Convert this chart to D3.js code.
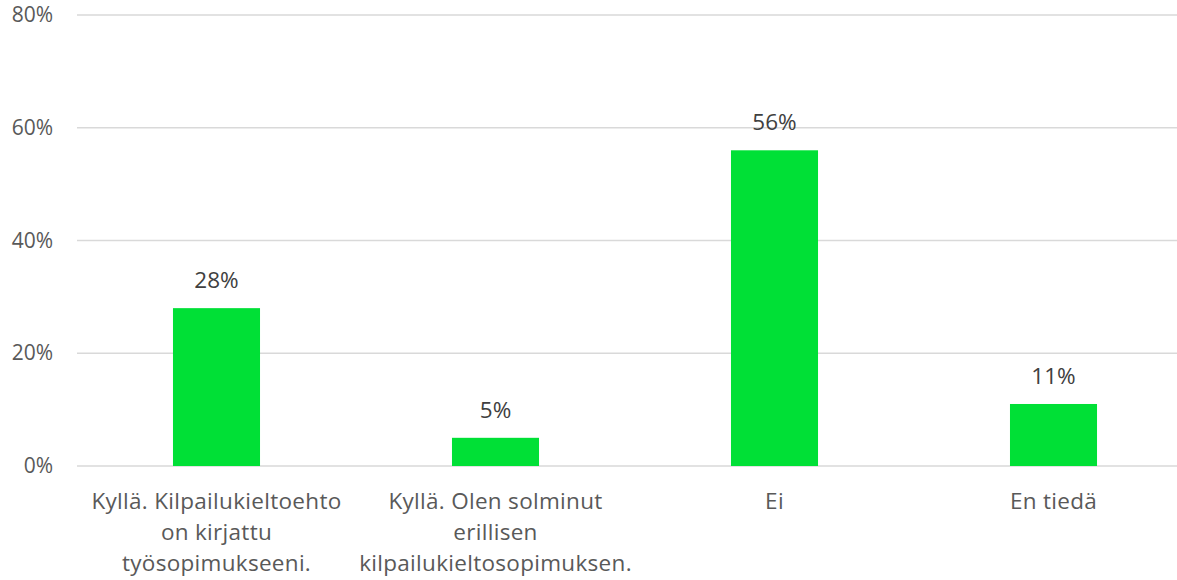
<!DOCTYPE html>
<html><head><meta charset="utf-8">
<script src="https://cdn.jsdelivr.net/npm/d3@7"></script>
<style>body{margin:0;background:#fff}svg{display:block}</style>
</head><body>
<svg id="c" width="1177" height="580"></svg>
<script>
const categories = ["Kyllä. Kilpailukieltoehto on kirjattu työsopimukseeni.", "Kyllä. Olen solminut erillisen kilpailukieltosopimuksen.", "Ei", "En tiedä"];
const categoryLines = [["Kyllä. Kilpailukieltoehto", "on kirjattu", "työsopimukseeni."], ["Kyllä. Olen solminut", "erillisen", "kilpailukieltosopimuksen."], ["Ei"], ["En tiedä"]];
const values = [0.28, 0.05, 0.56, 0.11];
const yTicks = [0, 0.2, 0.4, 0.6, 0.8];

const svg = d3.select("#c");
const font = "'Open Sans', sans-serif";
const fs = 22.5;
const x = d3.scaleBand().domain(categories).range([77, 1193]).paddingInner(0.688).paddingOuter(0.344);
const y = d3.scaleLinear().domain([0, 0.8]).range([466, 15]);
const fmt = d3.format(".0%");

// gridlines
svg.append("g").selectAll("line").data(yTicks).join("line")
  .attr("x1", 77).attr("x2", 1177)
  .attr("y1", d => y(d)).attr("y2", d => y(d))
  .attr("stroke", "#d9d9d9").attr("stroke-width", 1.5);

// y axis labels
svg.append("g").selectAll("text").data(yTicks).join("text")
  .attr("x", 53).attr("y", d => y(d)).attr("dy", "0.34em")
  .attr("text-anchor", "end").attr("font-family", font).attr("font-size", 21)
  .attr("fill", "#595959").text(d => fmt(d));

// bars
svg.append("g").selectAll("rect").data(values).join("rect")
  .attr("x", (d, i) => x(categories[i])).attr("width", x.bandwidth())
  .attr("y", d => y(d)).attr("height", d => y(0) - y(d))
  .attr("fill", "#00e036");

// data labels
svg.append("g").selectAll("text").data(values).join("text")
  .attr("x", (d, i) => x(categories[i]) + x.bandwidth() / 2)
  .attr("y", d => y(d) - 20)
  .attr("text-anchor", "middle").attr("font-family", font).attr("font-size", fs)
  .attr("fill", "#404040").text(d => fmt(d));

// category labels
const cg = svg.append("g").selectAll("text").data(categories).join("text")
  .attr("text-anchor", "middle").attr("font-family", font).attr("font-size", fs)
  .attr("letter-spacing", 0.3)
  .attr("fill", "#595959");
cg.each(function(d, i) {
  const t = d3.select(this);
  categoryLines[i].forEach((ln, j) => {
    t.append("tspan").attr("x", x(d) + x.bandwidth() / 2).attr("y", 509 + j * 31).text(ln);
  });
});
</script>
</body></html>
